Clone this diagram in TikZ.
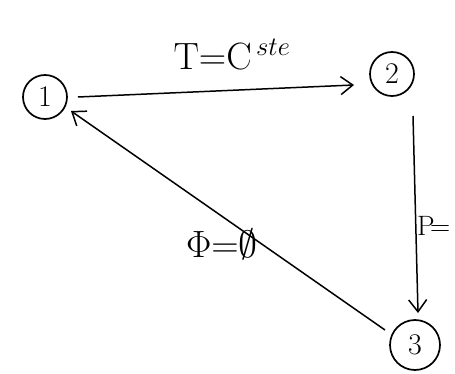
\documentclass[tikz,border=0pt]{standalone}
\usepackage{fix-cm}
\usetikzlibrary{arrows.meta,calc}
\begin{document}
\begin{tikzpicture}[x=1pt,y=-1pt,
  state/.style={circle,draw,line width=1.7pt,minimum size=44pt,inner sep=0pt,font=\fontsize{30}{34}\selectfont},
  edge/.style={line width=1.5pt,-{Straight Barb[length=12pt,width=18pt,line width=1.5pt]}},
  lbl/.style={font=\fontsize{38}{42}\selectfont}]
\useasboundingbox (0,0) rectangle (455,374);
\fill[white] (0,0) rectangle (455,374);
\node[state] (n1) at (45,97) {1};
\node[state] (n2) at (392,74) {2};
\node[state,minimum size=50pt] (n3) at (415,345) {3};
\coordinate (a1) at ($(n1)+(33,0)$);
\coordinate (a2) at ($(n2)+(-38,11)$);
\coordinate (b1) at ($(n2)+(21,42)$);
\coordinate (b2) at ($(n3)+(3,-32)$);
\coordinate (c1) at ($(n3)+(-30,-15)$);
\coordinate (c2) at ($(n1)+(26,14)$);
\draw[edge] (a1) -- (a2);
\draw[edge] (b1) -- (b2);
\draw[edge] (c1) -- (c2);
\node[lbl] (t1) at (232,54) {$\mathrm{T}{=}\mathrm{C}^{\,ste}$};
\node[lbl,anchor=west,inner sep=0pt,font=\fontsize{28}{32}\selectfont] (t2) at (417,226) {$\mathrm{P}\!{=}$};
\node[lbl] (t3) at (222,244) {$\Phi{=}\emptyset$};
\end{tikzpicture}
\end{document}
